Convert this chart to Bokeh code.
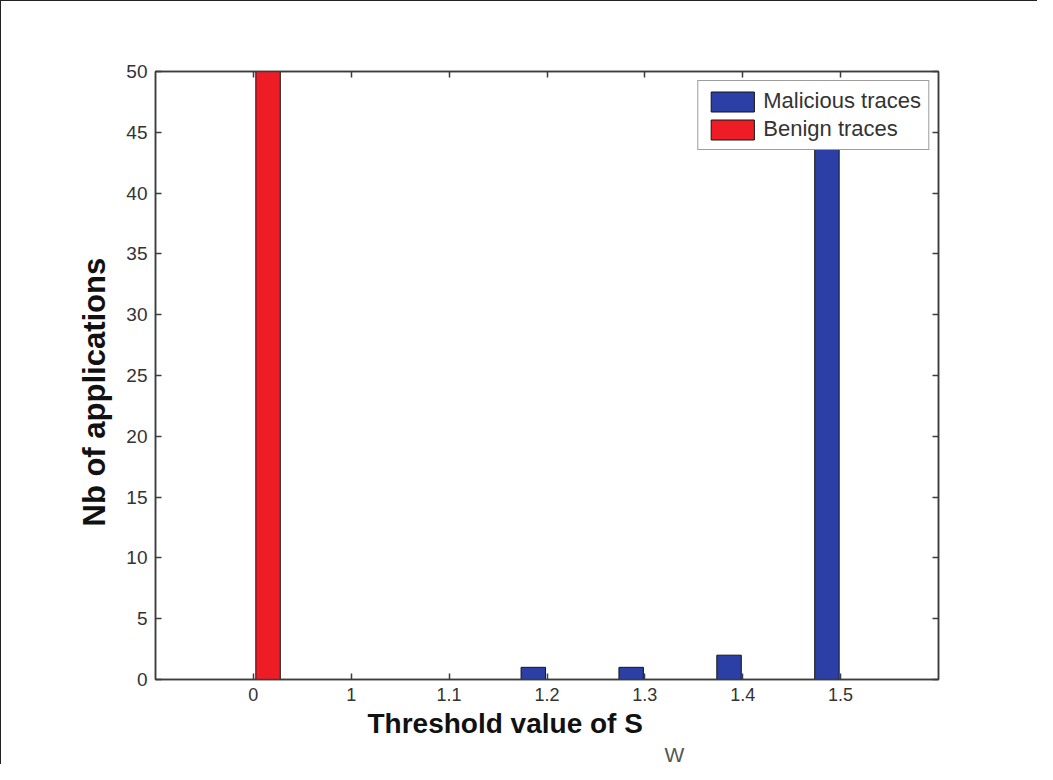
from bokeh.plotting import figure
from bokeh.models import (Range1d, FixedTicker, LinearAxis, Legend, LegendItem,
                          Title, ColumnDataSource)
from bokeh.embed import file_html
from bokeh.resources import INLINE

# ---- data ----
thresholds = ["0", "1", "1.1", "1.2", "1.3", "1.4", "1.5"]
malicious = [0, 0, 0, 1, 1, 2, 46]
benign = [50, 0, 0, 0, 0, 0, 0]
y_ticks = [0, 5, 10, 15, 20, 25, 30, 35, 40, 45, 50]

FONT = "Liberation Sans"
AX = "#3c3c3c"

pos = list(range(1, len(thresholds) + 1))
src = ColumnDataSource(dict(
    xm=[x - 0.14 for x in pos], xb=[x + 0.15 for x in pos],
    mal=malicious, ben=benign))

p = figure(width=1037, height=764,
           x_range=Range1d(0, len(thresholds) + 1), y_range=Range1d(0, 50),
           output_backend="svg", toolbar_location=None,
           min_border_left=154, min_border_right=100,
           min_border_top=70, min_border_bottom=86)
p.styles = {"border-left": "1px solid #222", "border-top": "1px solid #222"}
p.background_fill_color = "white"
p.border_fill_color = "white"
p.outline_line_color = AX
p.outline_line_width = 1.5
p.xgrid.visible = False
p.ygrid.visible = False

r_mal = p.vbar(x="xm", top="mal", width=0.25, source=src,
               fill_color="#2b3fa6", line_color="#151515", line_width=1)
r_ben = p.vbar(x="xb", top="ben", width=0.25, source=src,
               fill_color="#ee1d25", line_color="#151515", line_width=1)

xt = FixedTicker(ticks=pos)
yt = FixedTicker(ticks=y_ticks)
labels = {x: t for x, t in zip(pos, thresholds)}


def style(ax, show_labels):
    ax.axis_line_color = AX
    ax.axis_line_width = 1.5
    ax.major_tick_line_color = AX
    ax.major_tick_line_width = 1.5
    ax.major_tick_in = 6
    ax.major_tick_out = 0
    ax.minor_tick_line_color = None
    ax.major_label_text_font = FONT
    ax.major_label_text_color = "#333333" if show_labels else None
    ax.major_label_text_font_size = "18px"
    ax.major_label_standoff = 8


p.xaxis.ticker = xt
p.xaxis.major_label_overrides = labels
p.yaxis.ticker = yt
style(p.xaxis[0], True)
style(p.yaxis[0], True)
p.yaxis.major_label_text_font_size = "19px"

top_ax = LinearAxis(ticker=xt)
style(top_ax, False)
p.add_layout(top_ax, "above")
right_ax = LinearAxis(ticker=yt)
style(right_ax, False)
p.add_layout(right_ax, "right")

# axis titles
p.add_layout(Title(text="Nb of applications", align="left", offset=153,
                   text_font=FONT, text_font_size="31px",
                   text_font_style="bold", text_color="#111111",
                   standoff=24), "left")
p.add_layout(Title(text="Threshold value of S", align="left", offset=212,
                   text_font=FONT, text_font_size="28px",
                   text_font_style="bold", text_color="#111111",
                   standoff=4), "below")
p.add_layout(Title(text="W", align="left", offset=509,
                   text_font=FONT, text_font_size="21px",
                   text_font_style="normal", text_color="#555555",
                   standoff=0), "below")

legend = Legend(items=[LegendItem(label="Malicious traces", renderers=[r_mal]),
                       LegendItem(label="Benign traces", renderers=[r_ben])],
                location="top_right")
legend.margin = 9
legend.padding = 7
legend.spacing = 2
legend.glyph_width = 54
legend.glyph_height = 25
legend.label_height = 25
legend.label_standoff = 4
legend.label_text_font = FONT
legend.label_text_font_size = "22px"
legend.label_text_color = "#333333"
legend.border_line_color = AX
legend.border_line_width = 1.5
legend.background_fill_color = "white"
legend.background_fill_alpha = 1.0
p.add_layout(legend)

open("out.html", "w").write(file_html(p, INLINE))
